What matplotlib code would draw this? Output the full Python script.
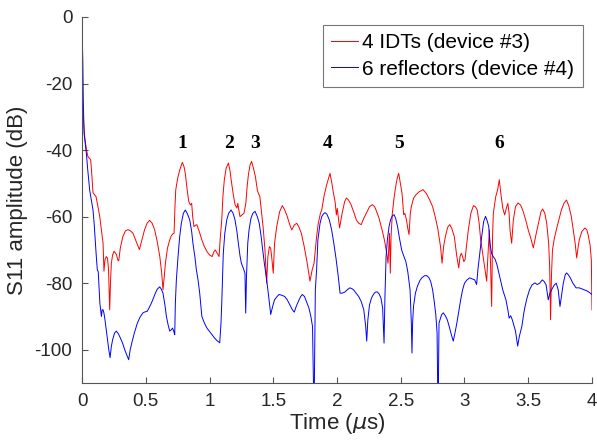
import matplotlib.pyplot as plt

plt.rcParams['axes.unicode_minus'] = False

# S11 time-domain response, device #3 (4 IDTs)
t_idt = [0.000, 0.010, 0.021, 0.035, 0.047, 0.060, 0.068, 0.078, 0.086, 0.100,
         0.110, 0.125, 0.139, 0.155, 0.165, 0.172, 0.180, 0.190, 0.200, 0.208,
         0.217, 0.223, 0.230, 0.240, 0.251, 0.262, 0.270, 0.280, 0.288, 0.300,
         0.320, 0.340, 0.360, 0.380, 0.400, 0.425, 0.450, 0.470, 0.490, 0.510,
         0.530, 0.550, 0.570, 0.590, 0.610, 0.625, 0.635, 0.645, 0.654, 0.670,
         0.688, 0.700, 0.714, 0.722, 0.728, 0.735, 0.750, 0.766, 0.787, 0.800,
         0.810, 0.825, 0.837, 0.850, 0.860, 0.868, 0.878, 0.890, 0.900, 0.920,
         0.940, 0.960, 0.980, 1.000, 1.020, 1.035, 1.045, 1.060, 1.075, 1.085,
         1.096, 1.105, 1.116, 1.130, 1.148, 1.160, 1.170, 1.185, 1.200, 1.215,
         1.222, 1.230, 1.239, 1.255, 1.270, 1.285, 1.295, 1.305, 1.318, 1.330,
         1.345, 1.360, 1.375, 1.383, 1.395, 1.405, 1.420, 1.435, 1.448, 1.458,
         1.470, 1.480, 1.490, 1.500, 1.510, 1.527, 1.550, 1.571, 1.590, 1.610,
         1.630, 1.645, 1.665, 1.684, 1.700, 1.720, 1.740, 1.762, 1.788, 1.805,
         1.820, 1.840, 1.853, 1.870, 1.880, 1.900, 1.919, 1.945, 1.960, 1.970,
         1.985, 1.995, 2.002, 2.020, 2.040, 2.060, 2.074, 2.090, 2.110, 2.130,
         2.152, 2.170, 2.190, 2.210, 2.230, 2.255, 2.277, 2.295, 2.310, 2.330,
         2.347, 2.360, 2.374, 2.390, 2.400, 2.405, 2.412, 2.418, 2.424, 2.434,
         2.447, 2.460, 2.472, 2.484, 2.495, 2.510, 2.523, 2.532, 2.545, 2.555,
         2.565, 2.575, 2.583, 2.600, 2.620, 2.645, 2.675, 2.700, 2.727, 2.750,
         2.770, 2.790, 2.800, 2.812, 2.824, 2.836, 2.850, 2.868, 2.884, 2.900,
         2.920, 2.940, 2.955, 2.965, 2.975, 2.985, 2.995, 3.004, 3.015, 3.030,
         3.050, 3.070, 3.085, 3.100, 3.115, 3.127, 3.150, 3.165, 3.174, 3.182,
         3.195, 3.205, 3.213, 3.220, 3.226, 3.245, 3.260, 3.273, 3.285, 3.300,
         3.315, 3.328, 3.340, 3.350, 3.357, 3.370, 3.383, 3.400, 3.420, 3.440,
         3.460, 3.480, 3.500, 3.520, 3.540, 3.560, 3.580, 3.600, 3.613, 3.630,
         3.645, 3.660, 3.668, 3.675, 3.682, 3.690, 3.705, 3.720, 3.740, 3.760,
         3.780, 3.800, 3.820, 3.838, 3.853, 3.868, 3.880, 3.890, 3.900, 3.920,
         3.945, 3.960, 3.970, 3.985, 3.995, 4.000]
s11_idt = [-26, -30, -36, -40, -42, -42.5, -43, -48, -52.8, -53.5,
           -54, -57, -60, -65, -68, -76.4, -73, -72, -72.5, -76,
           -88, -80, -74, -71.5, -70.4, -71, -71.4, -73, -73.3, -69.5,
           -66, -64.3, -63.9, -64.3, -65, -67.5, -69.9, -67, -64, -62,
           -61.1, -62, -64, -67.5, -72, -77, -82, -78, -74, -69.5,
           -67, -65.8, -65.1, -65, -58, -52, -48.5, -46, -43.7, -45,
           -47, -52, -55.4, -56.5, -56, -60, -63, -62.6, -62.4, -64.5,
           -67, -69, -70.5, -71.5, -72, -70.5, -70, -71, -72, -66,
           -61, -54, -49, -45.5, -43.9, -46, -49, -53, -56.4, -57.4,
           -56, -58, -60, -59.5, -59, -56, -51, -47.4, -44.5, -43.4,
           -45.5, -48, -52, -53, -54, -57.5, -63, -70, -80, -72,
           -69, -69.5, -73, -77, -68, -63, -58.5, -56.7, -58, -60,
           -62.5, -64, -62.5, -62, -63, -65, -68.5, -73, -79.4, -76,
           -74, -66, -62, -59, -58, -53.5, -50.4, -47, -50, -52.5,
           -55.5, -59.5, -57.5, -63.4, -59, -55.5, -54.4, -55, -56.4, -58.5,
           -61, -62, -62.4, -60.5, -59, -57, -56.4, -57, -58.4, -60.5,
           -63, -65, -67.4, -71, -74, -70, -65, -77, -66, -59,
           -54.5, -51, -48.5, -47, -49.5, -53, -59.4, -59, -61, -63.5,
           -65.4, -59, -57, -54.5, -53.4, -52.5, -51.9, -53, -55, -57,
           -60, -63.5, -66, -69, -74, -69, -66, -63.2, -62.4, -63.5,
           -66, -72, -75.4, -72, -71, -72, -73.5, -73, -69, -64,
           -59, -56.7, -57, -58, -62, -67, -73, -77, -79.4, -73,
           -64, -75, -87, -66, -59, -54, -51.9, -48.9, -53, -57.4,
           -59.5, -57.5, -56, -59, -64, -68, -61, -57, -55.9, -56.5,
           -58.4, -61, -64, -66.5, -69.4, -65.5, -62, -58.5, -57.7, -59,
           -62, -68, -75, -91, -78, -70, -66.5, -64, -61, -58,
           -56, -55, -57, -60, -64, -68, -72.4, -69.5, -67, -64.5,
           -63.4, -64, -65.5, -68.5, -73, -88]

# S11 time-domain response, device #4 (6 reflectors)
t_refl = [0.000, 0.003, 0.006, 0.010, 0.016, 0.025, 0.034, 0.045, 0.060, 0.073,
          0.086, 0.095, 0.105, 0.112, 0.120, 0.127, 0.132, 0.140, 0.146, 0.152,
          0.158, 0.165, 0.172, 0.180, 0.190, 0.200, 0.210, 0.220, 0.230, 0.240,
          0.255, 0.269, 0.285, 0.300, 0.318, 0.335, 0.350, 0.366, 0.378, 0.390,
          0.410, 0.434, 0.455, 0.478, 0.495, 0.510, 0.525, 0.544, 0.560, 0.575,
          0.590, 0.609, 0.622, 0.635, 0.650, 0.662, 0.675, 0.688, 0.700, 0.710,
          0.720, 0.727, 0.732, 0.740, 0.753, 0.766, 0.779, 0.795, 0.810, 0.825,
          0.845, 0.860, 0.870, 0.885, 0.897, 0.910, 0.923, 0.940, 0.960, 0.980,
          1.000, 1.020, 1.040, 1.060, 1.080, 1.090, 1.096, 1.102, 1.108, 1.120,
          1.135, 1.150, 1.169, 1.185, 1.200, 1.215, 1.226, 1.240, 1.250, 1.265,
          1.278, 1.284, 1.290, 1.300, 1.310, 1.325, 1.340, 1.357, 1.375, 1.390,
          1.405, 1.414, 1.430, 1.445, 1.461, 1.480, 1.495, 1.510, 1.530, 1.545,
          1.565, 1.590, 1.610, 1.630, 1.650, 1.665, 1.680, 1.700, 1.715, 1.728,
          1.745, 1.760, 1.780, 1.795, 1.808, 1.816, 1.822, 1.830, 1.840, 1.850,
          1.867, 1.880, 1.893, 1.905, 1.920, 1.940, 1.958, 1.975, 1.992, 2.010,
          2.024, 2.040, 2.060, 2.080, 2.100, 2.115, 2.130, 2.150, 2.170, 2.190,
          2.210, 2.225, 2.233, 2.242, 2.255, 2.270, 2.285, 2.300, 2.315, 2.330,
          2.345, 2.358, 2.369, 2.376, 2.385, 2.395, 2.408, 2.420, 2.433, 2.447,
          2.460, 2.475, 2.490, 2.507, 2.525, 2.540, 2.555, 2.573, 2.583, 2.588,
          2.593, 2.600, 2.615, 2.630, 2.650, 2.665, 2.685, 2.703, 2.720, 2.735,
          2.750, 2.761, 2.775, 2.785, 2.790, 2.795, 2.800, 2.808, 2.820, 2.834,
          2.850, 2.865, 2.880, 2.897, 2.912, 2.925, 2.940, 2.955, 2.970, 2.985,
          3.000, 3.020, 3.040, 3.060, 3.080, 3.095, 3.105, 3.120, 3.135, 3.150,
          3.165, 3.180, 3.190, 3.200, 3.212, 3.225, 3.240, 3.255, 3.270, 3.285,
          3.300, 3.325, 3.340, 3.350, 3.362, 3.375, 3.390, 3.400, 3.417, 3.430,
          3.450, 3.465, 3.475, 3.490, 3.510, 3.530, 3.553, 3.570, 3.590, 3.610,
          3.625, 3.640, 3.657, 3.670, 3.690, 3.705, 3.720, 3.735, 3.749, 3.760,
          3.775, 3.790, 3.800, 3.815, 3.830, 3.850, 3.875, 3.900, 3.920, 3.940,
          3.960, 3.980, 4.000]
s11_refl = [0, -8, -13, -25, -35, -38, -41, -46, -52, -55,
            -58, -62, -68, -72, -76, -76.5, -80, -86, -88, -90,
            -88, -88, -89, -91, -94, -97, -100, -102.4, -99, -97,
            -95, -94.4, -95.2, -96.4, -98, -100, -101.5, -103, -100, -98,
            -95, -92, -90.2, -88.9, -88.6, -88.5, -87.5, -86, -84.5, -83,
            -81.8, -81.1, -81.8, -83, -86.5, -90, -92.5, -94.4, -94, -93.5,
            -94.5, -95.5, -86, -79, -72, -66, -62, -59, -58, -59,
            -61, -64.5, -68, -72, -76, -79, -83, -90, -92, -93.5,
            -94.5, -95.5, -96.5, -97.3, -97.9, -92, -86, -78, -71, -65,
            -61, -59, -58, -59, -61, -64.5, -68, -72, -74, -75.5,
            -77, -89, -78, -68, -64, -60.5, -59, -58.4, -60, -62,
            -66, -69, -74, -78, -83, -89.4, -87, -85, -84, -83.4,
            -83.6, -84, -85, -86.5, -88, -88.7, -87, -85.2, -84, -83.4,
            -84, -85.5, -87.5, -90, -93, -112, -112, -82, -76, -67,
            -62, -60, -59.2, -58.8, -59.2, -61, -64, -68, -72.5, -78,
            -83, -83, -82.7, -82, -81.4, -81.6, -82, -83, -84, -85.5,
            -88, -93, -97.4, -91, -86.5, -84.5, -83.4, -82.7, -82.6, -83.2,
            -84.5, -87.5, -98, -84, -72, -67, -63, -61, -59.8, -59.4,
            -60.5, -63, -66.5, -70, -72, -73.5, -76.5, -82, -92, -101,
            -92, -87, -83, -81, -79.2, -78.4, -77.8, -77.7, -78.3, -79.5,
            -82, -85, -89.5, -95, -112, -112, -92, -91, -89.5, -88.9,
            -89.8, -91, -93, -95.5, -97.4, -95, -92, -88.5, -85, -82,
            -80, -79, -78.4, -78.7, -79, -80.4, -76, -71, -66, -61.5,
            -59.9, -61.5, -63, -68, -71, -72, -72.8, -74.5, -77, -79.5,
            -82, -85, -88, -90.5, -89.8, -91, -93, -94.4, -98.9, -96,
            -93, -89, -87, -84.5, -82, -80.5, -79.9, -80.4, -80, -79,
            -79.5, -80.5, -85, -83, -81.5, -80.5, -80, -82, -87, -84,
            -80, -77.5, -76.9, -77.5, -78.4, -80, -81.4, -81.4, -81.7, -82,
            -82.3, -82.8, -83.4]

# echo numbers and where they sit
echo_labels = ['1', '2', '3', '4', '5', '6']
echo_t = [0.79, 1.15, 1.36, 1.93, 2.49, 3.27]
echo_db = [-38, -38, -38, -38, -38, -38]

fig = plt.figure(figsize=(5.97, 4.40), dpi=100)
ax = fig.add_axes([0.1374, 0.1295, 0.8542, 0.8319])

ax.plot(t_idt, s11_idt, color='red', lw=0.7, label='4 IDTs (device #3)')
ax.plot(t_refl, s11_refl, color='blue', lw=0.7, label='6 reflectors (device #4)')

for lab, x, y in zip(echo_labels, echo_t, echo_db):
    ax.text(x, y, lab, ha='center', va='center', fontsize=14,
            fontweight='bold', family='Liberation Serif')

ax.set_xlim(0, 4)
ax.set_ylim(-110, 0)
ax.set_xticks([0, 0.5, 1, 1.5, 2, 2.5, 3, 3.5, 4])
ax.set_xticklabels(['0', '0.5', '1', '1.5', '2', '2.5', '3', '3.5', '4'])
ax.set_yticks([0, -20, -40, -60, -80, -100])

for s in ['top', 'right']:
    ax.spines[s].set_visible(False)
for s in ['left', 'bottom']:
    ax.spines[s].set_color('#555555')
    ax.spines[s].set_linewidth(0.8)
ax.tick_params(direction='in', length=4, width=0.8, color='#555555',
               labelsize=13.5, labelcolor='#262626', pad=7)
for lbl in ax.get_xticklabels() + ax.get_yticklabels():
    lbl.set_family('Liberation Sans')

ax.set_xlabel('Time ($\\mu$s)', fontsize=16, family='Liberation Sans',
              color='#262626', labelpad=1)
ax.set_ylabel('S11 amplitude (dB)', fontsize=16, family='Liberation Sans',
              color='#262626', labelpad=5)

leg = ax.legend(loc='upper right', bbox_to_anchor=(0.982, 0.978),
                prop={'family': 'Liberation Sans', 'size': 15},
                fancybox=False, framealpha=1, edgecolor='#777777',
                handlelength=1.3, handletextpad=0.2, borderpad=0.4,
                labelspacing=0.35, borderaxespad=0)
leg.get_frame().set_linewidth(0.8)

fig.savefig('out.png', dpi=100)
